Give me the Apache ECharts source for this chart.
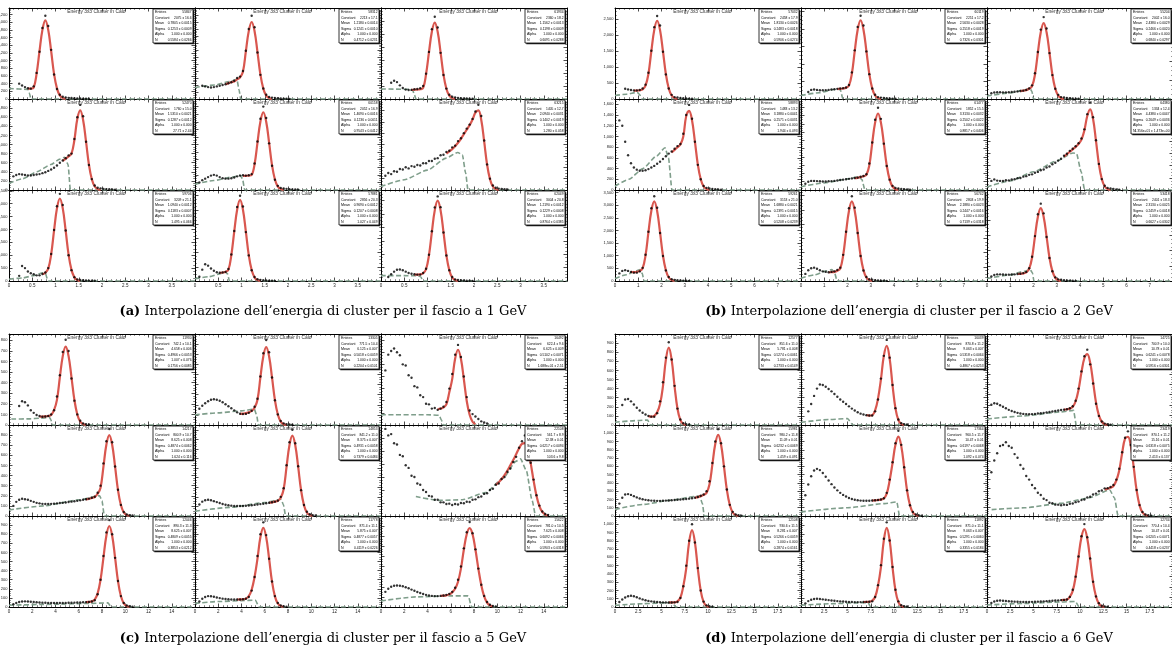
<!DOCTYPE html>
<html><head><meta charset="utf-8">
<script src="https://cdn.jsdelivr.net/npm/echarts@6/dist/echarts.min.js"></script>
<style>html,body{margin:0;padding:0;background:#fff}#c{width:1172px;height:651px}</style>
</head><body><div id="c"></div>
<script>
// ---------------- DATA ----------------
const N_BINS = 64;
const STAT_LABELS = ['Entries','Constant','Mean','Sigma','Alpha','N'];
const PLOT_TITLE = 'Energy 3x3 Cluster in Calo';

// panel (a) 1 GeV, x 0..4
const histA = [
 [0,0,0,400,350,310,280,270,330,680,1230,1850,2170,1900,1280,640,260,110,60,40,30,25,20,15,12,10,8,5],
 [0,0,380,360,340,330,340,360,380,400,420,450,480,520,600,640,800,1380,2000,2380,2050,1330,690,300,120,60,40,30,25,18,12,8,5],
 [0,0,0,500,560,520,420,340,290,275,280,300,310,330,400,780,1450,2150,2530,2200,1420,740,320,130,70,45,35,25,20,14,10,6],
 [0,300,330,350,340,330,320,320,330,340,350,370,390,420,450,490,540,600,650,700,760,800,1120,1600,1870,1620,1060,550,240,100,50,35,25,20,15,10,6],
 [0,200,260,300,340,380,400,380,340,310,300,300,310,330,360,380,390,380,390,420,700,1280,1880,2200,1900,1230,640,270,110,55,40,30,22,16,12,8],
 [0,250,300,280,330,320,370,360,400,380,420,410,440,430,470,470,510,510,550,560,610,620,670,690,750,780,860,910,1000,1080,1150,1250,1380,1500,1300,870,450,200,80,40,25,18,12,8],
 [0,0,0,200,580,500,370,300,260,220,220,270,330,500,1050,1980,2900,3380,2950,1960,1000,420,150,60,40,30,22,16,12,8],
 [0,150,400,590,540,440,360,310,290,300,320,420,930,1760,2600,3000,2620,1720,900,380,140,60,40,30,20,14,10,6],
 [0,0,150,250,350,420,430,400,350,300,270,250,240,240,300,460,980,1860,2750,3160,2760,1810,950,400,150,60,40,28,20,14,10,6]
];
const fitStartA = [6,10,10,18,16,22,11,8,11];
const fitA = [
 [270,272,300,660,1250,1800,2050,1800,1250,656,277,90,23,5],
 [420,450,480,500,560,620,780,1360,1940,2200,1936,1340,704,297,97,24,5],
 [280,285,290,300,340,760,1433,2068,2350,2068,1433,752,317,103,26,5],
 [640,690,740,800,1100,1560,1750,1540,1067,560,236,77,19,4],
 [370,375,380,400,680,1250,1800,2050,1800,1250,656,277,90,23,5],
 [640,680,720,770,830,900,980,1060,1140,1240,1360,1400,1232,854,448,189,62,15,3],
 [260,320,480,1024,1952,2816,3200,2816,1952,1024,432,141,35,7],
 [290,300,320,400,912,1739,2508,2850,2508,1739,912,385,125,31,6],
 [240,240,245,290,440,960,1830,2640,3000,2640,1830,960,405,132,33,6]
];
const bkgA = [
 [[0,275],[0.41,250],[0.44,150],[0.47,0],[4,0]],
 [[0,330],[0.43,400],[0.75,500],[0.9,560],[0.95,250],[0.98,0],[4,0]],
 [[0,310],[0.6,300],[0.68,280],[0.72,120],[0.75,0],[4,0]],
 [[0,150],[0.3,250],[0.6,400],[0.9,560],[1.1,680],[1.2,720],[1.27,560],[1.32,0],[4,0]],
 [[0,150],[0.4,250],[0.8,340],[0.97,390],[1.02,300],[1.07,0],[4,0]],
 [[0,60],[0.5,180],[1.0,350],[1.4,560],[1.65,660],[1.75,620],[1.82,300],[1.87,0],[4,0]],
 [[0,70],[0.3,120],[0.55,220],[0.73,320],[0.78,300],[0.84,0],[4,0]],
 [[0,80],[0.3,150],[0.55,260],[0.65,320],[0.7,250],[0.74,0],[4,0]],
 [[0,200],[0.5,200],[0.8,195],[0.86,150],[0.9,0],[4,0]]
];
const yMaxA = [2370,2600,2800,2000,2400,1600,3530,3200,3400];
const yStepA = [200,200,400,200,200,200,500,500,500];
const statsA = [
 ['55847','2075 ± 16.6','0.7805 ± 0.0015','0.1253 ± 0.0009','1.000 ± 0.000','0.5584 ± 0.0266'],
 ['58312','2213 ± 17.1','1.2180 ± 0.0014','0.1241 ± 0.0010','1.000 ± 0.000','0.4712 ± 0.0231'],
 ['61934','2360 ± 18.2','1.1562 ± 0.0013','0.1198 ± 0.0009','1.000 ± 0.000','0.6091 ± 0.0288'],
 ['52470','1760 ± 15.0','1.5310 ± 0.0021','0.1287 ± 0.0012','1.000 ± 0.000','27.71 ± 2.44'],
 ['60158','2052 ± 16.9','1.4690 ± 0.0016','0.1236 ± 0.0011','1.000 ± 0.000','0.9543 ± 0.0412'],
 ['63215','1405 ± 12.7','2.0940 ± 0.0031','0.1402 ± 0.0019','1.000 ± 0.000','1.280 ± 0.058'],
 ['59706','3209 ± 21.1','1.0940 ± 0.0012','0.1183 ± 0.0007','1.000 ± 0.000','1.495 ± 0.066'],
 ['57881','2856 ± 20.3','0.9690 ± 0.0012','0.1207 ± 0.0008','1.000 ± 0.000','1.027 ± 0.049'],
 ['62049','3004 ± 20.8','1.2190 ± 0.0012','0.1229 ± 0.0008','1.000 ± 0.000','0.8764 ± 0.0385']
];

// panel (b) 2 GeV, x 0..8
const histB = [
 [0,0,0,320,300,280,270,270,280,330,450,820,1510,2250,2600,2300,1480,770,330,130,60,45,35,25,18,12,8],
 [0,0,200,260,270,260,250,250,255,260,270,280,290,300,310,330,400,760,1390,2060,2380,2100,1360,710,300,120,55,40,30,22,15,10,6],
 [0,150,170,180,180,175,175,180,185,190,200,210,220,240,280,360,680,1240,1830,2160,1860,1210,630,270,110,50,38,28,20,14,9,5],
 [0,1300,1200,900,650,500,420,380,360,360,370,390,420,450,490,530,580,630,680,720,770,820,860,1050,1400,1590,1330,900,470,200,75,40,28,20,14,9,5],
 [0,150,200,220,220,215,210,205,205,210,215,220,230,240,250,260,270,280,290,300,320,340,380,640,1150,1700,1990,1720,1120,580,250,100,50,36,26,18,12,8],
 [0,150,175,155,150,148,160,158,172,178,195,198,220,228,250,258,285,298,325,338,370,388,425,448,485,515,565,598,645,680,720,770,850,1000,1250,1440,1200,820,430,180,70,35,24,16,10,6],
 [0,300,400,430,400,360,330,330,380,520,1040,1950,2880,3350,2900,1900,990,420,160,70,45,32,22,15,10,6],
 [0,250,380,450,470,430,380,340,320,310,320,340,390,470,920,1730,2560,2980,2580,1690,880,370,140,60,42,30,20,14,9,5],
 [0,150,200,220,220,215,210,210,215,220,230,240,260,300,420,800,1480,2200,2550,2230,1450,760,320,120,55,40,28,20,14,9,5]
];
const fitStartB = [6,12,11,19,18,26,5,9,10];
const fitB = [
 [260,265,275,300,420,784,1495,2156,2450,2156,1495,784,331,108,27,5],
 [280,290,300,320,380,720,1373,1980,2250,1980,1373,720,304,99,25,5],
 [210,220,235,270,340,640,1220,1760,2000,1760,1220,640,270,88,22,4],
 [700,750,800,850,1000,1380,1480,1302,903,474,200,65,16,3],
 [285,295,310,330,370,592,1129,1628,1850,1628,1129,592,250,81,20,4],
 [550,590,630,670,710,760,830,980,1220,1330,1170,811,426,180,58,15,3],
 [360,350,360,400,500,1008,1922,2772,3150,2772,1922,1008,425,139,35,7],
 [300,310,320,360,440,896,1708,2464,2800,2464,1708,896,378,123,31,6],
 [230,240,250,280,400,768,1464,2112,2400,2112,1464,768,324,106,26,5]
];
const bkgB = [
 [[0,110],[0.5,150],[0.95,210],[1.05,150],[1.15,0],[8,0]],
 [[0,100],[0.8,180],[1.4,270],[1.6,300],[1.7,250],[1.8,0],[8,0]],
 [[0,80],[1.0,160],[1.6,240],[1.85,280],[1.93,200],[2.0,0],[8,0]],
 [[0,70],[0.6,200],[1.2,400],[1.8,640],[2.15,790],[2.3,600],[2.45,0],[8,0]],
 [[0,80],[1.0,170],[2.0,270],[2.5,320],[2.62,250],[2.75,0],[8,0]],
 [[0,50],[1.0,150],[2.0,300],[3.0,480],[3.7,610],[3.85,600],[4.05,300],[4.2,0],[8,0]],
 [[0,100],[0.5,250],[0.9,400],[1.08,450],[1.17,300],[1.25,0],[8,0]],
 [[0,100],[0.6,220],[1.1,360],[1.33,400],[1.45,280],[1.55,0],[8,0]],
 [[0,80],[1.0,200],[1.6,320],[1.85,380],[1.95,280],[2.02,0],[8,0]]
];
const yMaxB = [2850,2600,2400,1700,2200,1500,3600,3200,3000];
const yStepB = [500,500,500,200,200,200,500,500,500];
const statsB = [
 ['57032','2458 ± 17.9','1.8130 ± 0.0026','0.2483 ± 0.0018','1.000 ± 0.000','0.5906 ± 0.0274'],
 ['60119','2251 ± 17.2','2.5630 ± 0.0028','0.2518 ± 0.0019','1.000 ± 0.000','0.7326 ± 0.0301'],
 ['55204','2002 ± 16.0','2.4380 ± 0.0029','0.2466 ± 0.0020','1.000 ± 0.000','0.6840 ± 0.0297'],
 ['58893','1483 ± 13.2','3.1880 ± 0.0041','0.2571 ± 0.0031','1.000 ± 0.000','1.944 ± 0.093'],
 ['61477','1852 ± 15.5','3.3130 ± 0.0032','0.2502 ± 0.0022','1.000 ± 0.000','0.8817 ± 0.0406'],
 ['64380','1334 ± 12.4','4.4380 ± 0.0047','0.2649 ± 0.0036','1.000 ± 0.000','1.356e+01 ± 1.473e+00'],
 ['59261','3153 ± 21.0','1.6880 ± 0.0021','0.2391 ± 0.0015','1.000 ± 0.000','0.5208 ± 0.0239'],
 ['56742','2803 ± 19.9','2.1880 ± 0.0023','0.2447 ± 0.0016','1.000 ± 0.000','0.7139 ± 0.0318'],
 ['53418','2401 ± 18.3','2.3130 ± 0.0025','0.2459 ± 0.0018','1.000 ± 0.000','0.6627 ± 0.0302']
];

// panel (c) 5 GeV, x 0..16
const histC = [
 [0,0,0,180,225,215,185,140,115,95,85,78,80,85,100,140,270,470,690,805,700,440,230,100,40,15,8,5],
 [0,160,190,215,235,250,255,250,240,225,205,185,165,145,125,112,108,110,120,140,180,260,480,710,840,720,470,245,105,40,16,9,6,4],
 [0,450,580,610,630,600,575,500,490,410,390,320,310,245,230,175,170,135,140,125,135,150,190,300,420,580,660,560,400,230,120,90,70,50,30,20,12],
 [0,100,140,160,170,165,160,150,140,130,125,120,118,118,120,122,125,128,130,134,138,142,146,150,155,160,166,172,180,190,230,300,520,740,860,730,490,260,110,40,15,8,5],
 [0,120,150,165,170,165,155,145,135,125,118,112,108,105,104,104,105,107,110,113,116,120,124,128,133,138,144,150,160,200,290,530,770,900,760,520,270,115,45,18,9,5],
 [0,670,620,630,560,550,470,460,390,370,310,300,250,240,200,185,155,150,125,125,105,105,92,95,85,92,88,100,98,110,108,125,128,145,150,170,175,200,210,240,250,285,300,340,365,415,455,525,575,620,530,410,280,160,80,35,15,8],
 [0,30,45,55,60,62,60,58,55,52,50,48,46,45,44,44,44,44,45,45,46,47,48,49,50,52,54,56,60,75,140,300,560,820,955,800,540,285,120,45,16,8,4],
 [0,60,90,110,120,118,112,105,98,92,88,85,83,82,82,83,85,90,110,180,330,560,800,930,790,530,280,120,45,16,8,4],
 [0,150,180,200,210,212,210,205,195,185,172,160,148,138,128,120,114,110,108,108,110,114,120,130,150,190,270,400,580,740,840,730,570,380,220,110,50,22,10,5]
];
const fitStartC = [10,15,19,26,25,39,26,14,20];
const fitC = [
 [80,80,82,85,95,140,237,451,651,740,651,451,237,100,33,8,2],
 [110,112,118,125,140,170,250,470,678,770,678,470,246,104,34,8,2],
 [130,135,145,170,270,378,546,620,546,378,198,84,27,7],
 [165,170,178,188,220,280,488,704,800,704,488,256,108,35,9,2],
 [136,142,150,158,190,280,512,739,840,739,512,269,113,37,9,2],
 [240,260,285,315,350,390,430,475,520,555,560,517,407,273,156,76,31,11,3],
 [54,56,62,80,150,300,543,783,890,783,543,285,120,39,10,2],
 [82,83,85,92,120,190,330,531,766,870,766,531,278,117,38,10,2],
 [110,112,115,125,145,180,250,380,566,720,780,720,566,380,217,105,44,16,5]
];
const bkgC = [
 [[0.2,56],[1.8,58],[2.6,64],[3.5,70],[3.6,50],[3.75,0],[16,0]],
 [[0,100],[2.0,120],[4.0,140],[5.1,157],[5.3,100],[5.45,0],[16,0]],
 [[0,85],[4.0,85],[5.0,80],[5.2,40],[5.35,0],[16,0]],
 [[0,60],[3.0,100],[6.0,160],[7.8,200],[8.0,150],[8.2,0],[16,0]],
 [[0,50],[3.0,90],[6.0,140],[7.4,175],[7.6,120],[7.8,0],[16,0]],
 [[3.0,150],[5.0,120],[7.0,125],[9.0,180],[10.5,290],[11.6,420],[12.0,440],[12.5,350],[13.0,120],[13.3,0],[16,0]],
 [[0,20],[4,30],[7,40],[8.5,45],[8.8,0],[16,0]],
 [[0,40],[2,60],[4,70],[5.2,75],[5.5,0],[16,0]],
 [[0,60],[3,100],[6,110],[7.5,110],[7.8,0],[16,0]]
];
const yMaxC = [860,900,750,900,950,700,1000,1000,900];
const yStepC = [100,100,100,100,100,100,100,100,100];
const statsC = [
 ['11930','742.1 ± 10.1','4.658 ± 0.006','0.4966 ± 0.0053','1.007 ± 0.076','0.1756 ± 0.0085'],
 ['13305','771.5 ± 10.4','6.125 ± 0.007','0.5018 ± 0.0059','1.000 ± 0.000','0.2204 ± 0.0101'],
 ['16492','622.4 ± 9.6','6.625 ± 0.009','0.5102 ± 0.0071','1.000 ± 0.000','1.688e+01 ± 2.51'],
 ['14217','800.9 ± 10.7','8.625 ± 0.008','0.4874 ± 0.0062','1.000 ± 0.000','1.624 ± 0.116'],
 ['14853','841.2 ± 11.0','8.375 ± 0.007','0.4931 ± 0.0058','1.000 ± 0.000','0.7379 ± 0.0484'],
 ['22108','561.7 ± 8.9','12.38 ± 0.01','0.6217 ± 0.0094','1.000 ± 0.000','103.6 ± 9.8'],
 ['12046','890.3 ± 11.3','8.625 ± 0.007','0.4809 ± 0.0055','1.000 ± 0.000','0.3853 ± 0.0212'],
 ['11778','871.4 ± 11.1','5.875 ± 0.007','0.4877 ± 0.0057','1.000 ± 0.000','0.4119 ± 0.0226'],
 ['15622','781.0 ± 10.5','7.625 ± 0.008','0.6092 ± 0.0066','1.000 ± 0.000','0.5903 ± 0.0318']
];

// panel (d) 6 GeV, x 0..20
const histD = [
 [0,0,220,280,285,260,225,190,160,135,115,100,92,90,130,260,470,740,910,720,430,180,60,20,10,6],
 [0,0,150,230,320,400,445,440,420,395,370,340,310,280,255,230,205,180,160,140,125,115,108,104,105,150,280,510,760,935,740,440,185,60,20,10,5],
 [0,200,215,210,195,180,165,150,138,128,120,114,110,108,107,108,110,113,116,120,124,128,133,138,143,148,152,156,165,185,240,360,530,680,745,600,410,210,90,35,14,7,4],
 [0,150,220,260,265,255,240,225,212,202,195,190,186,184,183,183,184,186,188,191,194,197,200,203,206,210,215,222,230,245,260,300,420,640,900,1050,880,600,320,135,50,18,9,5],
 [0,250,380,480,550,570,555,520,475,430,385,345,310,280,255,235,218,205,196,190,186,184,184,185,187,190,194,200,215,280,440,650,880,1030,860,590,310,130,48,18,9,5],
 [0,480,610,690,770,780,810,770,750,680,640,560,520,440,400,340,305,255,230,190,175,145,140,125,125,118,125,122,135,138,152,158,175,182,203,212,236,246,272,281,304,306,320,340,400,520,700,860,930,780,540,285,120,45,16,8,4],
 [0,60,90,115,130,136,130,118,104,92,82,74,68,64,60,58,56,55,55,55,56,60,110,250,500,800,1000,780,470,200,65,20,9,5],
 [0,40,65,80,88,90,88,84,80,76,72,68,65,62,60,58,56,55,54,54,54,55,56,58,62,110,240,460,750,930,730,440,190,62,20,9,5],
 [0,40,55,62,64,62,60,57,55,53,52,51,50,50,50,51,52,53,54,56,58,60,62,64,66,68,70,74,100,170,300,500,700,820,690,480,250,105,38,12,6,3]
];
const fitStartD = [11,22,26,27,24,40,18,21,25];
const fitD = [
 [98,92,100,140,230,425,715,850,715,425,179,54,11,2],
 [108,104,108,160,290,500,760,870,732,435,183,55,11,2],
 [152,156,162,180,235,350,520,660,700,616,427,224,95,31,8,2],
 [220,228,240,255,280,380,620,870,980,862,598,314,132,43,11,2],
 [186,189,193,198,212,270,430,640,860,960,845,586,307,130,42,11,2],
 [290,300,310,330,390,500,690,850,870,766,531,278,117,38,10,2],
 [55,55,56,68,112,250,465,782,930,782,465,195,59,12,2],
 [55,56,58,70,110,235,435,732,870,732,435,183,55,11,2],
 [68,70,74,100,160,300,500,690,770,678,470,246,104,34,8,2]
];
const bkgD = [
 [[0,30],[2.5,50],[3.5,55],[3.8,0],[20,0]],
 [[0,30],[3,60],[5,70],[5.6,0],[20,0]],
 [[0,60],[4,90],[8,130],[9.3,145],[9.6,0],[20,0]],
 [[0,80],[3,140],[6,190],[8.5,235],[9.1,242],[9.4,150],[9.6,0],[20,0]],
 [[0,50],[5,100],[9,150],[10.3,170],[10.6,0],[20,0]],
 [[0.5,70],[4,90],[8,140],[11,200],[13.2,286],[13.7,200],[14.1,0],[20,0]],
 [[0,20],[3,40],[5.5,50],[6.2,50],[6.5,0],[20,0]],
 [[0,20],[3,35],[6,45],[7.2,48],[7.5,0],[20,0]],
 [[0,20],[4,35],[8,50],[9.5,55],[9.9,0],[20,0]]
];
const yMaxD = [1000,1000,900,1100,1100,1000,1100,1000,900];
const yStepD = [100,100,100,100,100,100,100,100,100];
const statsD = [
 ['12577','851.6 ± 11.0','5.781 ± 0.008','0.5274 ± 0.0061','1.000 ± 0.000','0.2733 ± 0.0149'],
 ['16039','870.8 ± 11.2','9.063 ± 0.007','0.5318 ± 0.0064','1.000 ± 0.000','0.4867 ± 0.0253'],
 ['14725','700.9 ± 10.0','10.78 ± 0.01','0.6241 ± 0.0078','1.000 ± 0.000','0.5916 ± 0.0301'],
 ['15981','980.2 ± 11.8','11.09 ± 0.01','0.6232 ± 0.0069','1.000 ± 0.000','1.459 ± 0.091'],
 ['17364','960.5 ± 11.7','10.47 ± 0.01','0.6197 ± 0.0068','1.000 ± 0.000','1.092 ± 0.074'],
 ['23419','870.1 ± 11.2','15.16 ± 0.01','0.6318 ± 0.0075','1.000 ± 0.000','2.413 ± 0.137'],
 ['12108','930.6 ± 11.5','8.281 ± 0.007','0.5266 ± 0.0059','1.000 ± 0.000','0.2874 ± 0.0161'],
 ['11892','871.0 ± 11.1','9.063 ± 0.007','0.5291 ± 0.0060','1.000 ± 0.000','0.3355 ± 0.0184'],
 ['12734','770.4 ± 10.4','10.47 ± 0.01','0.6205 ± 0.0071','1.000 ± 0.000','0.4418 ± 0.0237']
];

const captions = [
 ['(a)', 'Interpolazione dell’energia di cluster per il fascio a 1 GeV'],
 ['(b)', 'Interpolazione dell’energia di cluster per il fascio a 2 GeV'],
 ['(c)', 'Interpolazione dell’energia di cluster per il fascio a 5 GeV'],
 ['(d)', 'Interpolazione dell’energia di cluster per il fascio a 6 GeV']
];

// ---------------- LAYOUT ----------------
const COLW = 186, ROWH = 91;
const SANS = 'Liberation Sans, Arial, sans-serif';
const SERIF = 'DejaVu Serif, serif';
const panels = [
 {hist:histA, fs:fitStartA, fit:fitA, bkg:bkgA, yMax:yMaxA, yStep:yStepA, stats:statsA, xMax:4,  xStep:0.5, left:9,   top:8,   capX:323, capY:312},
 {hist:histB, fs:fitStartB, fit:fitB, bkg:bkgB, yMax:yMaxB, yStep:yStepB, stats:statsB, xMax:8,  xStep:1,   left:615, top:8,   capX:909, capY:312},
 {hist:histC, fs:fitStartC, fit:fitC, bkg:bkgC, yMax:yMaxC, yStep:yStepC, stats:statsC, xMax:16, xStep:2,   left:9,   top:334, capX:323, capY:639},
 {hist:histD, fs:fitStartD, fit:fitD, bkg:bkgD, yMax:yMaxD, yStep:yStepD, stats:statsD, xMax:20, xStep:2.5, left:615, top:334, capX:909, capY:639}
];

const grids = [], xAxes = [], yAxes = [], series = [], graphics = [];
const axLine = {show:true, onZero:false, lineStyle:{color:'#000', width:1}};
const axTick = {show:true, inside:true, length:3.5, lineStyle:{color:'#000', width:0.7}};
const axMinor = {show:true, splitNumber:5, length:1.8, lineStyle:{color:'#000', width:0.5}};

panels.forEach((p, pi) => {
  const binW = p.xMax / N_BINS;
  for (let i = 0; i < 9; i++) {
    const r = Math.floor(i / 3), c = i % 3, g = pi * 9 + i;
    const L = p.left + c * COLW, T = p.top + r * ROWH;
    grids.push({left:L, top:T, width:COLW, height:ROWH, outerBoundsMode:'none', containLabel:false});
    ['bottom','top'].forEach(pos => xAxes.push({
      gridIndex:g, type:'value', position:pos, min:0, max:p.xMax, interval:p.xStep,
      axisLine:axLine, axisTick:axTick, minorTick:axMinor, splitLine:{show:false},
      axisLabel:{show: pos === 'bottom' && r === 2, fontSize:4.5, margin:2, color:'#222', fontFamily:SANS, showMaxLabel:false}
    }));
    ['left','right'].forEach(pos => yAxes.push({
      gridIndex:g, type:'value', position:pos, min:0, max:p.yMax[i], interval:p.yStep[i],
      axisLine:axLine, axisTick:axTick, minorTick:Object.assign({}, axMinor, {splitNumber:4}), splitLine:{show:false},
      axisLabel:{show: pos === 'left' && c === 0, fontSize:4, margin:1.5, color:'#222', fontFamily:SANS, showMaxLabel:false}
    }));
    const histData = [];
    p.hist[i].forEach((v, k) => { if (v > 0) histData.push([(k + 0.5) * binW, v]); });
    const fitData = p.fit[i].map((v, k) => [(p.fs[i] + k + 0.5) * binW, v]);
    series.push({type:'line', xAxisIndex:2*g, yAxisIndex:2*g, data:p.bkg[i], showSymbol:false, smooth:0.2, smoothMonotone:'x',
      lineStyle:{color:'#7f9e8b', width:1.6, type:[5,2.5]}, z:2, silent:true, clip:true});
    series.push({type:'line', xAxisIndex:2*g, yAxisIndex:2*g, data:fitData, showSymbol:false, smooth:0.4,
      lineStyle:{color:'#d9574f', width:2.2}, z:3, silent:true, clip:true});
    series.push({type:'scatter', xAxisIndex:2*g, yAxisIndex:2*g, data:histData, symbol:'circle', symbolSize:2.4,
      itemStyle:{color:'#000'}, z:4, silent:true});

    // title
    graphics.push({type:'text', x:L + COLW*0.47, y:T + 3.2, z:50, silent:true,
      style:{text:PLOT_TITLE, fontSize:4.9, fontFamily:SANS, fill:'#333', align:'center', verticalAlign:'middle'}});
    // stats box
    const bw = 40, bh = 34, bx = L + COLW - bw - 2, by = T + 1;
    graphics.push({type:'rect', z:100, silent:true, shape:{x:bx+1.3, y:by+1.3, width:bw, height:bh}, style:{fill:'#222'}});
    graphics.push({type:'rect', z:101, silent:true, shape:{x:bx, y:by, width:bw, height:bh}, style:{fill:'#fff', stroke:'#000', lineWidth:0.8}});
    STAT_LABELS.forEach((lab, j) => {
      const yy = by + 3 + j * 5.6;
      graphics.push({type:'text', x:bx + 2, y:yy, z:102, silent:true,
        style:{text:lab, fontSize:3.6, fontFamily:SANS, fill:'#000', align:'left', verticalAlign:'middle'}});
      graphics.push({type:'text', x:bx + bw - 1.5, y:yy, z:102, silent:true,
        style:{text:p.stats[i][j], fontSize:3.3, fontFamily:SANS, fill:'#000', align:'right', verticalAlign:'middle'}});
    });
  }
  graphics.push({type:'text', x:p.capX, y:p.capY, z:10, silent:true,
    style:{text:'{b|' + captions[pi][0] + '} ' + captions[pi][1], fontSize:13, fontFamily:SERIF, fill:'#000',
      align:'center', verticalAlign:'middle', rich:{b:{fontWeight:'bold', fontSize:13, fontFamily:SERIF, fill:'#000'}}}});
});

const chart = echarts.init(document.getElementById('c'), null, {renderer:'canvas', width:1172, height:651});
chart.setOption({
  animation:false, backgroundColor:'#fff',
  grid:grids, xAxis:xAxes, yAxis:yAxes, series:series, graphic:graphics
});
</script></body></html>
